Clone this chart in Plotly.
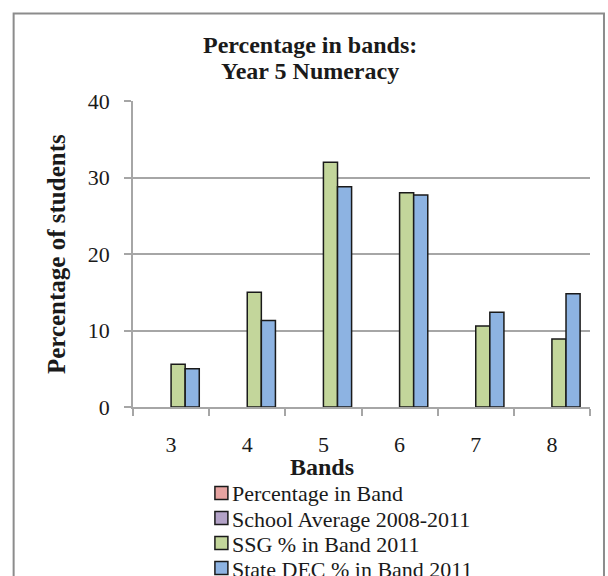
import plotly.graph_objects as go

# Bands on the x axis
bands = ["3", "4", "5", "6", "7", "8"]

# Series values (percentage of students per band)
pct_in_band = [None, None, None, None, None, None]
school_avg_2008_2011 = [None, None, None, None, None, None]
ssg_2011 = [5.6, 15.0, 32.0, 28.0, 10.6, 8.9]
state_dec_2011 = [5.0, 11.3, 28.8, 27.7, 12.4, 14.8]

series_names = [
    "Percentage in Band",
    "School Average 2008-2011",
    "SSG % in Band 2011",
    "State DEC % in Band 2011",
]
series_values = [pct_in_band, school_avg_2008_2011, ssg_2011, state_dec_2011]
series_colors = ["#e6a3a1", "#b3a2c7", "#c3d69b", "#8db3e2"]

W, H = 608, 576
L, R, T, B = 133, 17.5, 101, 169
plot_w = W - L - R
plot_h = H - T - B

SERIF = "Liberation Serif"
INK = "#1a1a1a"
GRID = "#a6a6a6"

fig = go.Figure()
for name, vals, col in zip(series_names, series_values, series_colors):
    fig.add_trace(go.Bar(
        x=bands, y=vals, name=name, showlegend=False,
        marker=dict(color=col, line=dict(color=INK, width=1.5)),
    ))


def px_x(p):
    return (p - L) / plot_w


def px_y(p):
    return (H - B - p) / plot_h


shapes = [dict(
    type="rect", xref="paper", yref="paper",
    x0=px_x(13.5), x1=px_x(604.5), y0=px_y(600), y1=px_y(13.5),
    line=dict(color="#8c8c8c", width=2), fillcolor="rgba(0,0,0,0)",
    layer="below",
)]

annotations = [
    dict(text="<b>Percentage in bands:</b>",
         xref="paper", yref="paper", x=px_x(310), y=px_y(45),
         xanchor="center", yanchor="middle", showarrow=False,
         font=dict(family=SERIF, size=24, color=INK)),
    dict(text="<b>Year 5 Numeracy</b>",
         xref="paper", yref="paper", x=px_x(310), y=px_y(71),
         xanchor="center", yanchor="middle", showarrow=False,
         font=dict(family=SERIF, size=24, color=INK)),
    dict(text="<b>Bands</b>", xref="paper", yref="paper",
         x=px_x(322), y=px_y(467), xanchor="center", yanchor="middle",
         showarrow=False, font=dict(family=SERIF, size=24, color=INK)),
    dict(text="<b>Percentage of students</b>", xref="paper", yref="paper",
         x=px_x(56), y=px_y(254), xanchor="center", yanchor="middle",
         textangle=-90, showarrow=False,
         font=dict(family=SERIF, size=25, color=INK)),
]

# Legend: one swatch and label per series, stacked below the axis title
LEG_X, LEG_Y0, LEG_STEP, SW = 215, 493, 25, 13
for i, (name, col) in enumerate(zip(series_names, series_colors)):
    cy = LEG_Y0 + i * LEG_STEP
    shapes.append(dict(
        type="rect", xref="paper", yref="paper",
        x0=px_x(LEG_X), x1=px_x(LEG_X + SW),
        y0=px_y(cy + SW / 2), y1=px_y(cy - SW / 2),
        fillcolor=col, line=dict(color=INK, width=1.5),
    ))
    annotations.append(dict(
        text=name, xref="paper", yref="paper",
        x=px_x(LEG_X + SW + 2), y=px_y(cy + 1), xanchor="left", yanchor="middle",
        showarrow=False, font=dict(family=SERIF, size=22, color=INK),
    ))

fig.update_layout(
    width=W, height=H,
    margin=dict(l=L, r=R, t=T, b=B, autoexpand=False),
    paper_bgcolor="white", plot_bgcolor="white",
    barmode="group", bargap=0.26, bargroupgap=0,
    font=dict(family=SERIF, size=21, color=INK),
    showlegend=False,
    xaxis=dict(
        type="category", tickson="boundaries", ticks="outside", ticklen=7,
        tickcolor=GRID, tickwidth=1.5, showline=True, linecolor=GRID, linewidth=1.5,
        showgrid=False, ticklabelstandoff=17,
        tickfont=dict(family=SERIF, size=22, color=INK),
    ),
    yaxis=dict(
        range=[0, 40], dtick=10, ticks="outside", ticklen=7, tickcolor=GRID,
        tickwidth=1.5, showline=True, linecolor=GRID, linewidth=1.5,
        showgrid=True, gridcolor=GRID, gridwidth=1.5, zeroline=False,
        ticklabelstandoff=10,
        tickfont=dict(family=SERIF, size=22, color=INK),
    ),
    shapes=shapes,
    annotations=annotations,
)

fig.write_html("out.html")
